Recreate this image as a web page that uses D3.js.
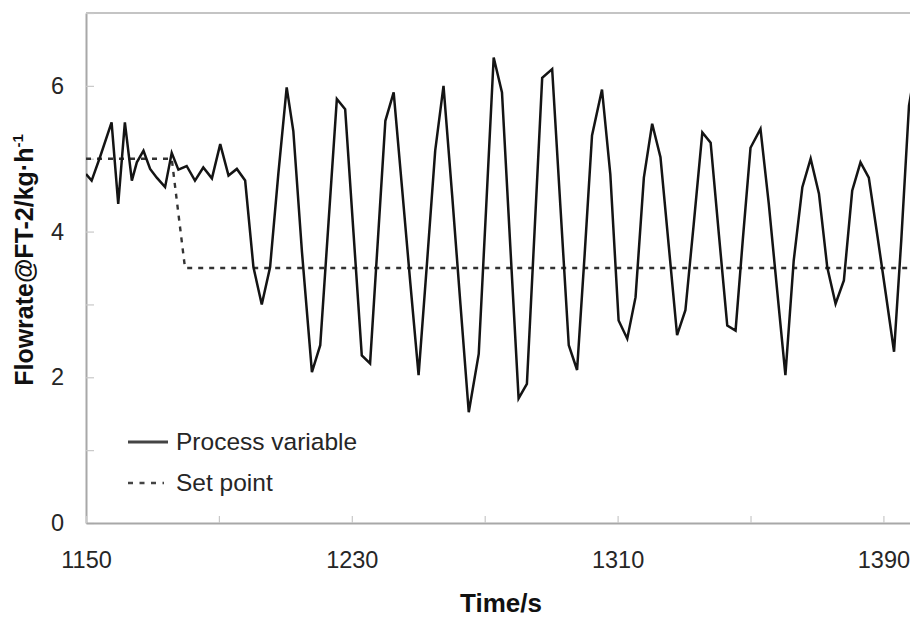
<!DOCTYPE html>
<html>
<head>
<meta charset="utf-8">
<script src="https://cdn.jsdelivr.net/npm/d3@7/dist/d3.min.js"></script>
<style>
  html, body { margin: 0; padding: 0; background: #fff; }
  svg { display: block; }
  text { font-family: "Liberation Sans", Arial, sans-serif; }
</style>
</head>
<body>
<svg id="chart" width="910" height="617"></svg>
<script>
// ---- data ----
const pvTime = [1150, 1151.7, 1154.2, 1157.7, 1159.7, 1161.7, 1163.8, 1165.3, 1167.3, 1169.3,
  1171.3, 1173.8, 1175.8, 1177.8, 1180.3, 1182.8, 1185.3, 1187.9, 1190.4, 1192.9,
  1195.4, 1197.9, 1200.4, 1202.9, 1205.4, 1207.9, 1210.4, 1212.4, 1215.0, 1218.0,
  1220.5, 1223.0, 1225.5, 1228.0, 1230.5, 1233.0, 1235.5, 1237.8, 1240.1, 1242.6,
  1245.1, 1247.6, 1250.1, 1252.6, 1255.1, 1257.6, 1260.2, 1262.7, 1265.2, 1268.2,
  1270.4, 1272.7, 1275.2, 1277.7, 1280.2, 1282.7, 1285.0, 1287.3, 1290.3, 1292.8,
  1295.3, 1297.8, 1300.1, 1302.3, 1305.3, 1307.8, 1310.3, 1312.9, 1315.4, 1317.9,
  1320.4, 1322.9, 1325.4, 1327.9, 1330.4, 1332.9, 1335.5, 1338.0, 1340.5, 1343.0,
  1345.5, 1347.7, 1350.0, 1353.0, 1355.5, 1358.0, 1360.5, 1363.0, 1365.6, 1368.1,
  1370.6, 1373.1, 1375.6, 1378.1, 1380.6, 1383.1, 1385.6, 1388.2, 1390.7, 1393.2,
  1395.4, 1397.7, 1400.2];
const pvFlow = [4.79, 4.70, 5.02, 5.50, 4.38, 5.50, 4.70, 4.95, 5.11, 4.86,
  4.74, 4.61, 5.08, 4.85, 4.90, 4.70, 4.88, 4.73, 5.20, 4.77,
  4.86, 4.70, 3.51, 3.00, 3.51, 4.80, 5.98, 5.38, 3.72, 2.07,
  2.44, 4.13, 5.82, 5.68, 3.99, 2.30, 2.19, 3.85, 5.52, 5.91,
  4.61, 3.30, 2.03, 3.55, 5.11, 6.00, 4.50, 3.00, 1.52, 2.32,
  4.30, 6.39, 5.91, 3.80, 1.71, 1.91, 4.00, 6.11, 6.23, 4.33,
  2.44, 2.10, 3.70, 5.32, 5.95, 4.79, 2.78, 2.53, 3.10, 4.74,
  5.48, 5.02, 3.80, 2.58, 2.92, 4.10, 5.36, 5.22, 3.95, 2.71,
  2.64, 3.90, 5.15, 5.41, 4.38, 3.20, 2.03, 3.60, 4.61, 5.00,
  4.52, 3.51, 3.01, 3.33, 4.56, 4.95, 4.74, 3.94, 3.15, 2.35,
  3.90, 5.73, 6.40];
const spTime = [1150, 1175.8, 1179.8, 1400];
const spFlow = [5.0, 5.0, 3.5, 3.5];

const yTicks = [0, 1, 2, 3, 4, 5, 6, 7];
const yLabels = [0, 2, 4, 6];
const xTicks = [1150, 1190, 1230, 1270, 1310, 1350, 1390];
const xLabels = [1150, 1230, 1310, 1390];

const legendNames = ["Process variable", "Set point"];
const xTitle = "Time/s";
const yTitle = "Flowrate@FT-2/kg\u00B7h";
const yTitleSup = "-1";

// ---- layout ----
const svg = d3.select("#chart");
const L = 86, R = 910, T = 13, B = 523;
const x = d3.scaleLinear().domain([1150, 1398]).range([L, R]);
const y = d3.scaleLinear().domain([0, 7]).range([B, T]);

const axisColor = "#a8a8a8";
const textColor = "#262626";
const tickFont = "23.5px";

svg.append("defs").append("clipPath").attr("id", "plotclip")
  .append("rect").attr("x", L).attr("y", T).attr("width", R - L).attr("height", B - T);

// top frame line
svg.append("line").attr("x1", L).attr("x2", R).attr("y1", T).attr("y2", T)
  .attr("stroke", "#c4c4c4").attr("stroke-width", 2);

// y axis
const gy = svg.append("g").attr("transform", `translate(${L},0)`)
  .call(d3.axisLeft(y).tickValues(yTicks).tickSizeInner(-8).tickSizeOuter(0).tickPadding(22)
    .tickFormat(d => yLabels.includes(d) ? d3.format("d")(d) : ""));
gy.select(".domain").attr("stroke", axisColor).attr("stroke-width", 2);
gy.selectAll(".tick line").attr("stroke", "#c8c8c8").attr("stroke-width", 1.2);
gy.selectAll(".tick text").attr("fill", textColor).style("font-size", tickFont)
  .style("font-family", "'Liberation Sans', Arial, sans-serif");

// x axis
const gx = svg.append("g").attr("transform", `translate(0,${B})`)
  .call(d3.axisBottom(x).tickValues(xTicks).tickSizeInner(-7).tickSizeOuter(0).tickPadding(28)
    .tickFormat(d => xLabels.includes(d) ? d3.format("d")(d) : ""));
gx.select(".domain").attr("stroke", axisColor).attr("stroke-width", 2);
gx.selectAll(".tick line").attr("stroke", "#c8c8c8").attr("stroke-width", 1.2);
gx.selectAll(".tick text").attr("fill", textColor).style("font-size", tickFont)
  .style("font-family", "'Liberation Sans', Arial, sans-serif");

// series
const plot = svg.append("g").attr("clip-path", "url(#plotclip)");
const pvData = pvTime.map((t, i) => [t, pvFlow[i]]);
const spData = spTime.map((t, i) => [t, spFlow[i]]);
const line = d3.line().x(d => x(d[0])).y(d => y(d[1]));

plot.append("path").datum(spData).attr("d", line)
  .attr("fill", "none").attr("stroke", "#333").attr("stroke-width", 2.4)
  .attr("stroke-dasharray", "5,6");
plot.append("path").datum(pvData).attr("d", line)
  .attr("fill", "none").attr("stroke", "#141414").attr("stroke-width", 2.5)
  .attr("stroke-linejoin", "miter");

// legend
const lg = svg.append("g");
lg.append("line").attr("x1", 128).attr("x2", 168).attr("y1", 442).attr("y2", 442)
  .attr("stroke", "#444").attr("stroke-width", 2.8);
lg.append("text").attr("x", 176).attr("y", 450).text(legendNames[0])
  .attr("fill", textColor).style("font-size", "24.5px");
lg.append("line").attr("x1", 128).attr("x2", 164).attr("y1", 483).attr("y2", 483)
  .attr("stroke", "#444").attr("stroke-width", 2.6).attr("stroke-dasharray", "5,6.5");
lg.append("text").attr("x", 176).attr("y", 491).text(legendNames[1])
  .attr("fill", textColor).style("font-size", "24.5px");

// axis titles
svg.append("text").attr("x", 501).attr("y", 612).attr("text-anchor", "middle")
  .attr("fill", "#111").style("font-size", "26px").style("font-weight", "bold").text(xTitle);

const yt = svg.append("text").attr("transform", "translate(33,260) rotate(-90)")
  .attr("text-anchor", "middle").attr("fill", "#111")
  .style("font-size", "25px").style("font-weight", "bold");
yt.append("tspan").text(yTitle);
yt.append("tspan").attr("dy", -10).style("font-size", "15px").text(yTitleSup);
</script>
</body>
</html>
